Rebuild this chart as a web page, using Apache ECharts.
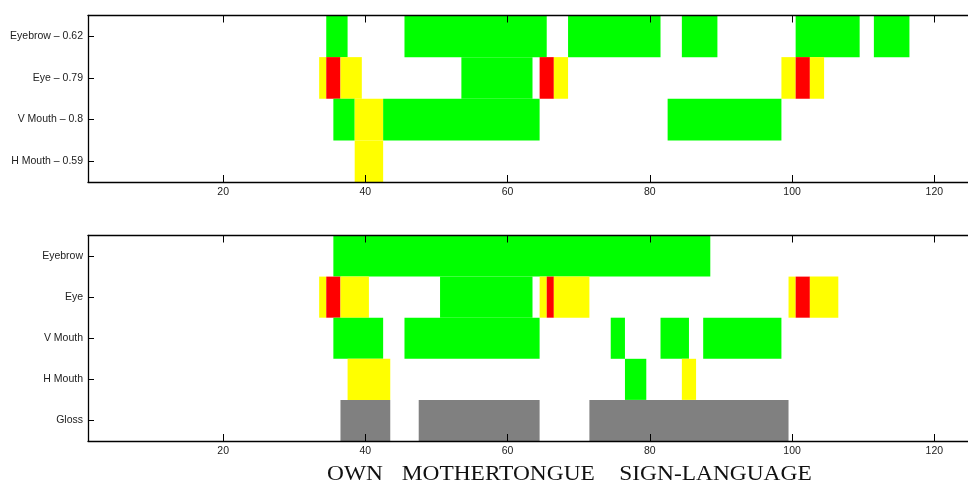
<!DOCTYPE html>
<html>
<head>
<meta charset="utf-8">
<script src="https://cdn.jsdelivr.net/npm/echarts@6/dist/echarts.min.js"></script>
<style>
  html, body { margin: 0; padding: 0; background: #fff; }
  #chart { width: 968px; height: 486px; }
</style>
</head>
<body>
<div id="chart"></div>
<script>
// Frame range of the timeline and the labelled ticks
const frameMin = 1;
const frameMax = 126;
const frameTicks = [20, 40, 60, 80, 100, 120];

// Upper panel: detected features with their scores
const detectedRows = ['Eyebrow – 0.62', 'Eye – 0.79', 'V Mouth – 0.8', 'H Mouth – 0.59'];
// Segments are [firstFrame, lastFrame, state]; g = green, y = yellow, r = red, k = gloss
const detectedEyebrow = [[35, 37, 'g'], [46, 65, 'g'], [69, 81, 'g'], [85, 89, 'g'], [101, 109, 'g'], [112, 116, 'g']];
const detectedEye = [[34, 34, 'y'], [35, 36, 'r'], [37, 39, 'y'], [54, 63, 'g'], [65, 66, 'r'], [67, 68, 'y'],
                     [99, 100, 'y'], [101, 102, 'r'], [103, 104, 'y']];
const detectedVMouth = [[36, 38, 'g'], [39, 42, 'y'], [43, 64, 'g'], [83, 98, 'g']];
const detectedHMouth = [[39, 42, 'y']];

// Lower panel: annotated features and glosses
const annotatedRows = ['Eyebrow', 'Eye', 'V Mouth', 'H Mouth', 'Gloss'];
const annotatedEyebrow = [[36, 88, 'g']];
const annotatedEye = [[34, 34, 'y'], [35, 36, 'r'], [37, 40, 'y'], [51, 63, 'g'], [65, 65, 'y'], [66, 66, 'r'],
                      [67, 71, 'y'], [100, 100, 'y'], [101, 102, 'r'], [103, 106, 'y']];
const annotatedVMouth = [[36, 42, 'g'], [46, 64, 'g'], [75, 76, 'g'], [82, 85, 'g'], [88, 98, 'g']];
const annotatedHMouth = [[38, 43, 'y'], [77, 79, 'g'], [85, 86, 'y']];
const annotatedGloss = [[37, 43, 'k'], [48, 64, 'k'], [72, 99, 'k']];

// Glosses written under the lower panel
const glossWords = ['OWN', 'MOTHERTONGUE', 'SIGN-LANGUAGE'];

const stateColors = { g: '#00ff00', y: '#ffff00', r: '#ff0000', k: '#808080' };

function toData(rows) {
  const out = [];
  rows.forEach(function (segs, rowIdx) {
    segs.forEach(function (s) {
      out.push({ value: [rowIdx, s[0], s[1]], itemStyle: { color: stateColors[s[2]] } });
    });
  });
  return out;
}

const detectedData = toData([detectedEyebrow, detectedEye, detectedVMouth, detectedHMouth]);
const annotatedData = toData([annotatedEyebrow, annotatedEye, annotatedVMouth, annotatedHMouth, annotatedGloss]);

// Each frame occupies a unit-wide cell centred on its index
function renderSegment(params, api) {
  const row = api.value(0);
  const p0 = api.coord([api.value(1) - 0.5, row]);
  const p1 = api.coord([api.value(2) + 0.5, row]);
  const h = api.size([0, 1])[1];
  const rect = echarts.graphic.clipRectByRect(
    { x: p0[0], y: p0[1] - h / 2, width: p1[0] - p0[0], height: h },
    { x: params.coordSys.x, y: params.coordSys.y, width: params.coordSys.width, height: params.coordSys.height }
  );
  return rect && {
    type: 'rect',
    shape: rect,
    style: { fill: api.visual('color') }
  };
}

const labelFont = { fontFamily: 'Liberation Sans, Arial, sans-serif', fontSize: 10.5, color: '#222' };
const lineStyle = { color: '#000', width: 1.3 };

function xAxes(gridIndex) {
  return [
    {
      type: 'value', gridIndex: gridIndex, position: 'bottom', min: frameMin, max: frameMax, z: 5,
      axisLine: { show: true, onZero: false, lineStyle: lineStyle },
      axisTick: { show: true, inside: true, length: 7, customValues: frameTicks, lineStyle: { color: '#000', width: 1 } },
      axisLabel: Object.assign({ show: true, margin: 5, customValues: frameTicks }, labelFont),
      splitLine: { show: false }
    },
    {
      type: 'value', gridIndex: gridIndex, position: 'top', min: frameMin, max: frameMax, z: 5,
      axisLine: { show: true, onZero: false, lineStyle: lineStyle },
      axisTick: { show: true, inside: true, length: 7, customValues: frameTicks, lineStyle: { color: '#000', width: 1 } },
      axisLabel: { show: false },
      splitLine: { show: false }
    }
  ];
}

function yAxis(gridIndex, rows) {
  return {
    type: 'category', gridIndex: gridIndex, data: rows, inverse: true, z: 5,
    axisLine: { show: true, onZero: false, lineStyle: lineStyle },
    axisTick: { show: true, inside: true, length: 6, alignWithLabel: true, lineStyle: { color: '#000', width: 1 } },
    axisLabel: Object.assign({ margin: 5 }, labelFont),
    splitLine: { show: false }
  };
}

const chart = echarts.init(document.getElementById('chart'), null, { renderer: 'canvas' });

const glossX = [327, 401.7, 619.3];

chart.setOption({
  animation: false,
  backgroundColor: '#fff',
  grid: [
    { left: 88, top: 15.5, width: 889, height: 166.5, outerBoundsMode: 'none', containLabel: false },
    { left: 88, top: 235.5, width: 889, height: 205.5, outerBoundsMode: 'none', containLabel: false }
  ],
  xAxis: xAxes(0).concat(xAxes(1)),
  yAxis: [yAxis(0, detectedRows), yAxis(1, annotatedRows)],
  series: [
    {
      type: 'custom', xAxisIndex: 0, yAxisIndex: 0, renderItem: renderSegment,
      encode: { x: [1, 2], y: 0 }, data: detectedData
    },
    {
      type: 'custom', xAxisIndex: 2, yAxisIndex: 1, renderItem: renderSegment,
      encode: { x: [1, 2], y: 0 }, data: annotatedData
    }
  ],
  graphic: glossWords.map(function (word, i) {
    return {
      type: 'text',
      x: glossX[i],
      y: 485,
      scaleX: 1.17,
      style: {
        text: word,
        fontFamily: 'Liberation Serif, Times New Roman, serif',
        fontSize: 20,
        fill: '#111',
        verticalAlign: 'bottom'
      }
    };
  })
});
</script>
</body>
</html>
